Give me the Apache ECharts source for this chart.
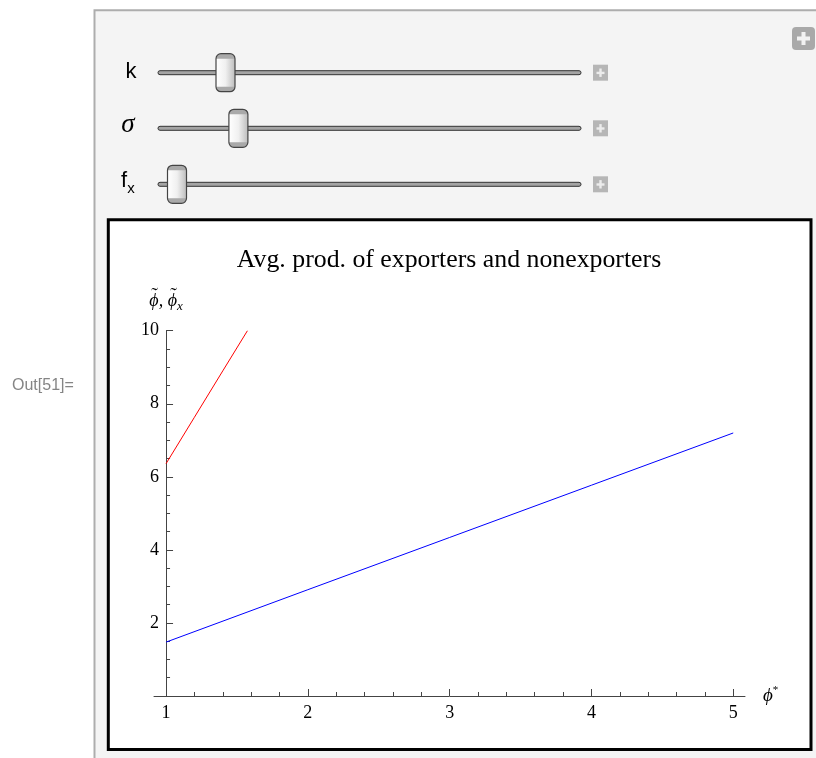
<!DOCTYPE html>
<html><head><meta charset="utf-8">
<script src="https://cdn.jsdelivr.net/npm/echarts@6/dist/echarts.min.js"></script>
<style>html,body{margin:0;padding:0;background:#fff}#c{width:816px;height:758px}</style>
</head><body><div id="c"></div><script>
// ---- data ----
const exportersX = [1, 1.2, 1.4, 1.574];
const exportersY = [6.36, 7.63, 8.9, 10];
const nonexportersX = [1, 2, 3, 4, 5];
const nonexportersY = [1.475, 2.91, 4.34, 5.77, 7.2];
const xMajorTicks = [1, 2, 3, 4, 5];
const xMinorTicks = [1.2, 1.4, 1.6, 1.8, 2.2, 2.4, 2.6, 2.8, 3.2, 3.4, 3.6, 3.8, 4.2, 4.4, 4.6, 4.8];
const yMajorTicks = [2, 4, 6, 8, 10];
const yMinorTicks = [0.5, 1, 1.5, 2.5, 3, 3.5, 4.5, 5, 5.5, 6.5, 7, 7.5, 8.5, 9, 9.5];
const xRange = [0.915, 5.083];
const yRange = [0, 10];
const titleText = 'Avg. prod. of exporters and nonexporters';

// ---- layout ----
const G = { left: 154, top: 330.7, width: 591, height: 365.3 };
const yAxisOffset = -((xMajorTicks[0] - xRange[0]) / (xRange[1] - xRange[0])) * G.width;
const serif = 'Liberation Serif';
const axisColor = '#444';

function slider(yc, tx) {
  const els = [];
  els.push({ type: 'rect', shape: { x: 158, y: yc - 2, width: 423, height: 4, r: 2 },
    style: { fill: '#a4a4a4', stroke: '#333', lineWidth: 1 }, z: 10 });
  const tw = 19, th = 38, x0 = tx - tw / 2, y0 = yc - th / 2;
  els.push({ type: 'rect', shape: { x: x0, y: y0, width: tw, height: th, r: 5 },
    style: { fill: new echarts.graphic.LinearGradient(0, 0, 1, 0, [
      { offset: 0, color: '#ffffff' }, { offset: 0.5, color: '#f0f0f0' }, { offset: 1, color: '#bdbdbd' }]) }, z: 11 });
  els.push({ type: 'rect', shape: { x: x0, y: y0, width: tw, height: 5, r: [5, 5, 0, 0] },
    style: { fill: '#a9a9a9' }, z: 12 });
  els.push({ type: 'rect', shape: { x: x0, y: y0 + th - 5, width: tw, height: 5, r: [0, 0, 5, 5] },
    style: { fill: '#a9a9a9' }, z: 12 });
  els.push({ type: 'rect', shape: { x: x0, y: y0, width: tw, height: th, r: 5 },
    style: { fill: 'none', stroke: '#444', lineWidth: 1.2 }, z: 13 });
  els.push({ type: 'rect', shape: { x: 593, y: yc - 8, width: 15, height: 16 }, style: { fill: '#b6b6b6' }, z: 10 });
  els.push({ type: 'rect', shape: { x: 596.5, y: yc - 1, width: 8, height: 2.4 }, style: { fill: '#ececec' }, z: 11 });
  els.push({ type: 'rect', shape: { x: 599.3, y: yc - 4.2, width: 2.4, height: 8.4 }, style: { fill: '#ececec' }, z: 11 });
  return els;
}

const graphics = [
  { type: 'rect', shape: { x: 94.5, y: 10.3, width: 760, height: 770 },
    style: { fill: '#f4f4f4', stroke: '#adadad', lineWidth: 2 }, z: -20 },
  { type: 'rect', shape: { x: 108.3, y: 219.7, width: 702.7, height: 529.8 },
    style: { fill: '#ffffff', stroke: '#000', lineWidth: 3 }, z: -10 },
  { type: 'text', style: { text: 'Out[51]=', x: 12, y: 386, verticalAlign: 'middle',
    font: '16px "Liberation Sans"', fill: '#858585' }, z: 10 },
  { type: 'text', style: { text: titleText, x: 449, y: 260, align: 'center', verticalAlign: 'middle',
    font: '25.8px "Liberation Serif"', fill: '#000' }, z: 10 },
  { type: 'text', style: { text: 'k', x: 131, y: 72, align: 'center', verticalAlign: 'middle',
    font: '22px "Liberation Sans"', fill: '#000' }, z: 10 },
  { type: 'text', style: { text: 'σ', x: 128, y: 125, align: 'center', verticalAlign: 'middle',
    font: 'italic 27px "Liberation Serif"', fill: '#000' }, z: 10 },
  { type: 'text', style: { text: 'f', x: 124, y: 181, align: 'center', verticalAlign: 'middle',
    font: '22px "Liberation Sans"', fill: '#000' }, z: 10 },
  { type: 'text', style: { text: 'x', x: 131, y: 189, align: 'center', verticalAlign: 'middle',
    font: '15px "Liberation Sans"', fill: '#000' }, z: 10 },
  // tildes over the phi symbols of the y-axis name
  { type: 'text', style: { text: '˜', x: 154.5, y: 297, align: 'center', verticalAlign: 'middle',
    font: '20px "Liberation Serif"', fill: '#000' }, z: 10 },
  { type: 'text', style: { text: '˜', x: 173.5, y: 297, align: 'center', verticalAlign: 'middle',
    font: '20px "Liberation Serif"', fill: '#000' }, z: 10 },
  // top-right plus
  { type: 'rect', shape: { x: 792, y: 27, width: 23, height: 23, r: 4 }, style: { fill: '#a9a9a9' }, z: 10 },
  { type: 'rect', shape: { x: 797, y: 36.5, width: 13, height: 4 }, style: { fill: '#f2f2f2' }, z: 11 },
  { type: 'rect', shape: { x: 801.5, y: 32, width: 4, height: 13 }, style: { fill: '#f2f2f2' }, z: 11 },
  ...slider(72.7, 225.5),
  ...slider(128.3, 238.4),
  ...slider(184.3, 177)
];

const chart = echarts.init(document.getElementById('c'), null, { renderer: 'canvas' });
const tickLabel = { fontFamily: serif, fontSize: 18, color: '#000' };
chart.setOption({
  animation: false,
  backgroundColor: '#ffffff',
  graphic: { elements: graphics },
  grid: { left: G.left, top: G.top, width: G.width, height: G.height, containLabel: false, outerBoundsMode: 'none' },
  xAxis: [
    { type: 'value', min: xRange[0], max: xRange[1], position: 'bottom',
      name: '{p|ϕ}{s|*}', nameLocation: 'end', nameGap: 18,
      nameTextStyle: { rich: {
        p: { fontFamily: serif, fontStyle: 'italic', fontSize: 19, color: '#000' },
        s: { fontFamily: serif, fontSize: 11, color: '#000', padding: [0, 0, 12, 0] } } },
      axisLine: { show: true, onZero: false, lineStyle: { color: axisColor, width: 1 } },
      axisTick: { show: true, inside: true, length: 7, customValues: xMajorTicks, lineStyle: { color: axisColor } },
      axisLabel: { show: true, margin: 8, customValues: xMajorTicks, ...tickLabel, formatter: v => String(v) },
      splitLine: { show: false } },
    { type: 'value', min: xRange[0], max: xRange[1], position: 'bottom',
      axisLine: { show: false, onZero: false },
      axisTick: { show: true, inside: true, length: 4, customValues: xMinorTicks, lineStyle: { color: axisColor } },
      axisLabel: { show: false }, splitLine: { show: false } }
  ],
  yAxis: [
    { type: 'value', min: yRange[0], max: yRange[1], position: 'left', offset: yAxisOffset,
      name: '{p|ϕ, ϕ}{s|x}', nameLocation: 'end', nameGap: 18,
      nameTextStyle: { rich: {
        p: { fontFamily: serif, fontStyle: 'italic', fontSize: 18, color: '#000' },
        s: { fontFamily: serif, fontStyle: 'italic', fontSize: 13, color: '#000', padding: [10, 0, 0, 0] } } },
      axisLine: { show: true, onZero: false, lineStyle: { color: axisColor, width: 1 } },
      axisTick: { show: true, inside: true, length: 7, customValues: yMajorTicks, lineStyle: { color: axisColor } },
      axisLabel: { show: true, margin: 7, customValues: yMajorTicks, ...tickLabel, formatter: v => String(v) },
      splitLine: { show: false } },
    { type: 'value', min: yRange[0], max: yRange[1], position: 'left', offset: yAxisOffset,
      axisLine: { show: false, onZero: false },
      axisTick: { show: true, inside: true, length: 4, customValues: yMinorTicks, lineStyle: { color: axisColor } },
      axisLabel: { show: false }, splitLine: { show: false } }
  ],
  series: [
    { name: 'exporters', type: 'line', xAxisIndex: 0, yAxisIndex: 0, showSymbol: false,
      data: exportersX.map((x, i) => [x, exportersY[i]]),
      lineStyle: { color: '#ff0000', width: 1 }, itemStyle: { color: '#ff0000' } },
    { name: 'nonexporters', type: 'line', xAxisIndex: 0, yAxisIndex: 0, showSymbol: false,
      data: nonexportersX.map((x, i) => [x, nonexportersY[i]]),
      lineStyle: { color: '#0000ff', width: 1 }, itemStyle: { color: '#0000ff' } }
  ]
});
</script></body></html>
